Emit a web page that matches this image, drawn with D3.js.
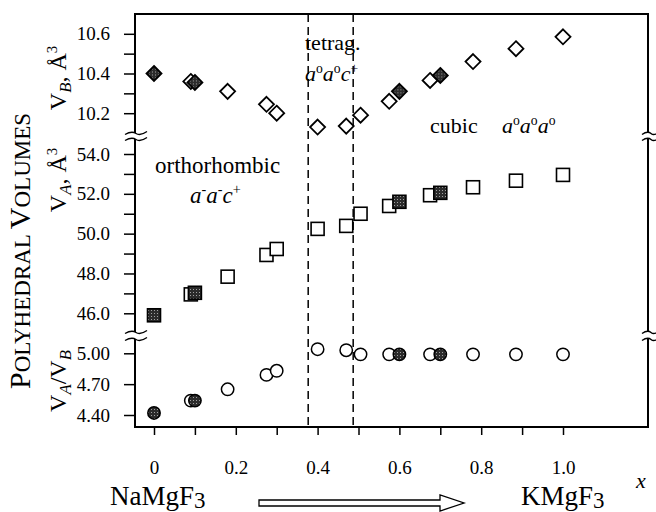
<!DOCTYPE html>
<html>
<head>
<meta charset="utf-8">
<script src="https://cdn.jsdelivr.net/npm/d3@7"></script>
<style>
  html, body { margin: 0; padding: 0; background: #fff; }
  svg text { font-family: "Liberation Serif", "DejaVu Serif", serif; fill: #000; }
</style>
</head>
<body>
<svg id="chart" width="656" height="512"></svg>
<script>
// Composition x in Na(1-x)K(x)MgF3 and measured polyhedral volumes
const composition = [0, 0.09, 0.10, 0.18, 0.275, 0.30, 0.40, 0.47, 0.505, 0.575, 0.60, 0.675, 0.70, 0.78, 0.885, 1.0];
const filledFlag  = [1, 0, 1, 0, 0, 0, 0, 0, 0, 0, 1, 0, 1, 0, 0, 0];
const volumeB     = [10.40, 10.36, 10.355, 10.31, 10.245, 10.20, 10.13, 10.135, 10.19, 10.26, 10.31, 10.365, 10.39, 10.46, 10.525, 10.585];
const volumeA     = [45.9, 46.95, 47.03, 47.84, 48.93, 49.23, 50.24, 50.39, 51.0, 51.39, 51.6, 51.93, 52.05, 52.33, 52.66, 52.95];
const volumeRatio = [4.42, 4.54, 4.54, 4.65, 4.79, 4.83, 5.04, 5.03, 4.99, 4.99, 4.99, 4.99, 4.99, 4.99, 4.99, 4.99];

// Phase boundaries (dashed lines)
const phaseBounds = [0.377, 0.487];

// Tick values
const xTicks = [0, 0.1, 0.2, 0.3, 0.4, 0.5, 0.6, 0.7, 0.8, 0.9, 1.0];
const xTickLabels = ["0", "", "0.2", "", "0.4", "", "0.6", "", "0.8", "", "1.0"];
const bTicks = [10.2, 10.3, 10.4, 10.5, 10.6];
const bTickLabels = ["10.2", "", "10.4", "", "10.6"];
const aTicks = [46, 47, 48, 49, 50, 51, 52, 53, 54];
const aTickLabels = ["46.0", "", "48.0", "", "50.0", "", "52.0", "", "54.0"];
const rTicks = [4.40, 4.70, 5.00];
const rTickLabels = ["4.40", "4.70", "5.00"];

const svg = d3.select("#chart");

// Frame geometry
const L = 135, R = 648, T = 14, B = 427;
const breaks = [{ y1: 133, y2: 139 }, { y1: 332, y2: 339 }];

const x = d3.scaleLinear().domain([0, 1]).range([154, 563]);
const yB = d3.scaleLinear().domain([10.2, 10.6]).range([113.2, 33.8]);
const yA = d3.scaleLinear().domain([46, 54]).range([313.3, 154]);
const yR = d3.scaleLinear().domain([4.40, 5.00]).range([415, 353.3]);

// Speckled dark fill for the highlighted samples
const defs = svg.append("defs");
const pat = defs.append("pattern").attr("id", "speckle")
  .attr("width", 3).attr("height", 3).attr("patternUnits", "userSpaceOnUse");
pat.append("rect").attr("width", 3).attr("height", 3).attr("fill", "#2b2b2b");
pat.append("rect").attr("x", 1).attr("y", 1).attr("width", 1).attr("height", 1).attr("fill", "#a0a0a0");

// Phase boundary lines
svg.selectAll("line.phase").data(phaseBounds).join("line")
  .attr("class", "phase")
  .attr("x1", d => x(d)).attr("x2", d => x(d))
  .attr("y1", T).attr("y2", B)
  .attr("stroke", "#000").attr("stroke-width", 1.5)
  .attr("stroke-dasharray", "8,5");

// Frame lines (left/right broken at the axis breaks)
const segs = [[T, breaks[0].y1], [breaks[0].y2, breaks[1].y1], [breaks[1].y2, B]];
const frame = svg.append("g").attr("stroke", "#000").attr("stroke-width", 2);
segs.forEach(([a, b]) => {
  frame.append("line").attr("x1", L).attr("x2", L).attr("y1", a).attr("y2", b);
  frame.append("line").attr("x1", R).attr("x2", R).attr("y1", a).attr("y2", b);
});
frame.append("line").attr("x1", L - 1).attr("x2", R + 1).attr("y1", T).attr("y2", T);
frame.append("line").attr("x1", L - 1).attr("x2", R + 1).attr("y1", B).attr("y2", B);

// Break marks
function breakMark(cx, yTop, yBot, half) {
  const g = svg.append("g").attr("fill", "none").attr("stroke", "#000").attr("stroke-width", 1.4);
  [yTop, yBot].forEach(yy => {
    g.append("path").attr("d",
      `M${cx - half},${yy + 1.5} c${half * 0.4},-2.5 ${half * 0.8},-2.5 ${half},-1 s${half * 0.6},1 ${half},-2`);
  });
}
breaks.forEach(b => {
  breakMark(L + 1, b.y1, b.y2, 11);
  breakMark(R + 3, b.y1, b.y2, 9);
});

// Axes
function styleAxis(g) {
  g.select(".domain").remove();
  g.selectAll(".tick line").attr("stroke", "#000").attr("stroke-width", 1.5);
  g.selectAll(".tick text").attr("font-size", 19).attr("font-family", "Liberation Serif, serif");
}
function leftAxis(scale, ticks, labels) {
  const g = svg.append("g").attr("transform", `translate(${L},0)`)
    .call(d3.axisLeft(scale).tickValues(ticks).tickSize(11).tickPadding(14)
      .tickFormat((d, i) => labels[i]));
  styleAxis(g);
}
leftAxis(yB, bTicks, bTickLabels);
leftAxis(yA, aTicks, aTickLabels);
leftAxis(yR, rTicks, rTickLabels);

const gx = svg.append("g").attr("transform", `translate(0,${B})`)
  .call(d3.axisBottom(x).tickValues(xTicks).tickSize(8).tickPadding(26)
    .tickFormat((d, i) => xTickLabels[i]));
styleAxis(gx);

// Markers
const order = d3.range(composition.length).sort((a, b) => filledFlag[a] - filledFlag[b]);
const fillOf = i => filledFlag[i] ? "url(#speckle)" : "#fff";

svg.append("g").selectAll("path").data(order).join("path")
  .attr("transform", i => `translate(${x(composition[i])},${yB(volumeB[i])})`)
  .attr("d", "M0,-7.5 L7.5,0 L0,7.5 L-7.5,0 Z")
  .attr("fill", fillOf).attr("stroke", "#000").attr("stroke-width", 1.8);

svg.append("g").selectAll("rect").data(order).join("rect")
  .attr("x", i => x(composition[i]) - 6.5).attr("y", i => yA(volumeA[i]) - 6.5)
  .attr("width", 13).attr("height", 13)
  .attr("fill", fillOf).attr("stroke", "#000").attr("stroke-width", 1.6);

svg.append("g").selectAll("circle").data(order).join("circle")
  .attr("cx", i => x(composition[i])).attr("cy", i => yR(volumeRatio[i]))
  .attr("r", 6.2)
  .attr("fill", fillOf).attr("stroke", "#000").attr("stroke-width", 1.5);

// Rich text helper: sup/sub shifts are applied with dy and undone on the next run
function addParts(t, size, parts) {
  let shift = 0;
  parts.forEach(p => {
    const s = t.append("tspan").text(p.t);
    let target = 0;
    if (p.i) s.attr("font-style", "italic");
    if (p.size) s.attr("font-size", p.size);
    if (p.sup) { s.attr("font-size", size * 0.62); target = -size * 0.38; }
    if (p.sub) { s.attr("font-size", size * (p.subScale || 0.7)); target = size * (p.subDrop || 0.22); }
    if (target !== shift) s.attr("dy", target - shift);
    shift = target;
  });
}
function label(xp, yp, size, parts) {
  const t = svg.append("text").attr("x", xp).attr("y", yp).attr("font-size", size);
  addParts(t, size, parts);
  return t;
}
label(305, 50, 22, [{ t: "tetrag." }]);
label(305, 81, 22, [{ t: "a", i: 1 }, { t: "o", sup: 1 }, { t: "a", i: 1 }, { t: "o", sup: 1 }, { t: "c", i: 1 }, { t: "+", sup: 1 }]);
label(155, 173, 23, [{ t: "orthorhombic" }]);
label(190, 203, 23, [{ t: "a", i: 1 }, { t: "-", sup: 1 }, { t: "a", i: 1 }, { t: "-", sup: 1 }, { t: "c", i: 1 }, { t: "+", sup: 1 }]);
label(430, 133, 22, [{ t: "cubic" }]);
label(502, 133, 22, [{ t: "a", i: 1 }, { t: "o", sup: 1 }, { t: "a", i: 1 }, { t: "o", sup: 1 }, { t: "a", i: 1 }, { t: "o", sup: 1 }]);

// Axis titles (rotated)
function vlabel(xp, yp, size, parts) {
  const t = svg.append("text").attr("transform", `translate(${xp},${yp}) rotate(-90)`)
    .attr("text-anchor", "middle").attr("font-size", size);
  addParts(t, size, parts);
}
vlabel(30, 251, 30, [{ t: "P" }, { t: "OLYHEDRAL ", size: 23 }, { t: "V" }, { t: "OLUMES", size: 23 }]);
vlabel(66, 78, 24, [{ t: "V" }, { t: "B", i: 1, sub: 1 }, { t: ", Å" }, { t: "3", sup: 1 }]);
vlabel(66, 180, 24, [{ t: "V" }, { t: "A", i: 1, sub: 1 }, { t: ", Å" }, { t: "3", sup: 1 }]);
vlabel(66, 381, 24, [{ t: "V" }, { t: "A", i: 1, sub: 1 }, { t: "/V" }, { t: "B", i: 1, sub: 1 }]);

// x label and end members
svg.append("text").attr("x", 636).attr("y", 488).attr("font-size", 22).attr("font-style", "italic").text("x");
label(110, 505, 27, [{ t: "NaMgF" }, { t: "3", sub: 1, subScale: 0.85, subDrop: 0.1 }]);
label(521, 505, 27, [{ t: "KMgF" }, { t: "3", sub: 1, subScale: 0.85, subDrop: 0.1 }]);

// Hollow arrow between end members
svg.append("path")
  .attr("d", "M259,500 L440,500 L440,495 L464,503 L440,511 L440,506 L259,506 Z")
  .attr("fill", "#fff").attr("stroke", "#000").attr("stroke-width", 1.3);
</script>
</body>
</html>
